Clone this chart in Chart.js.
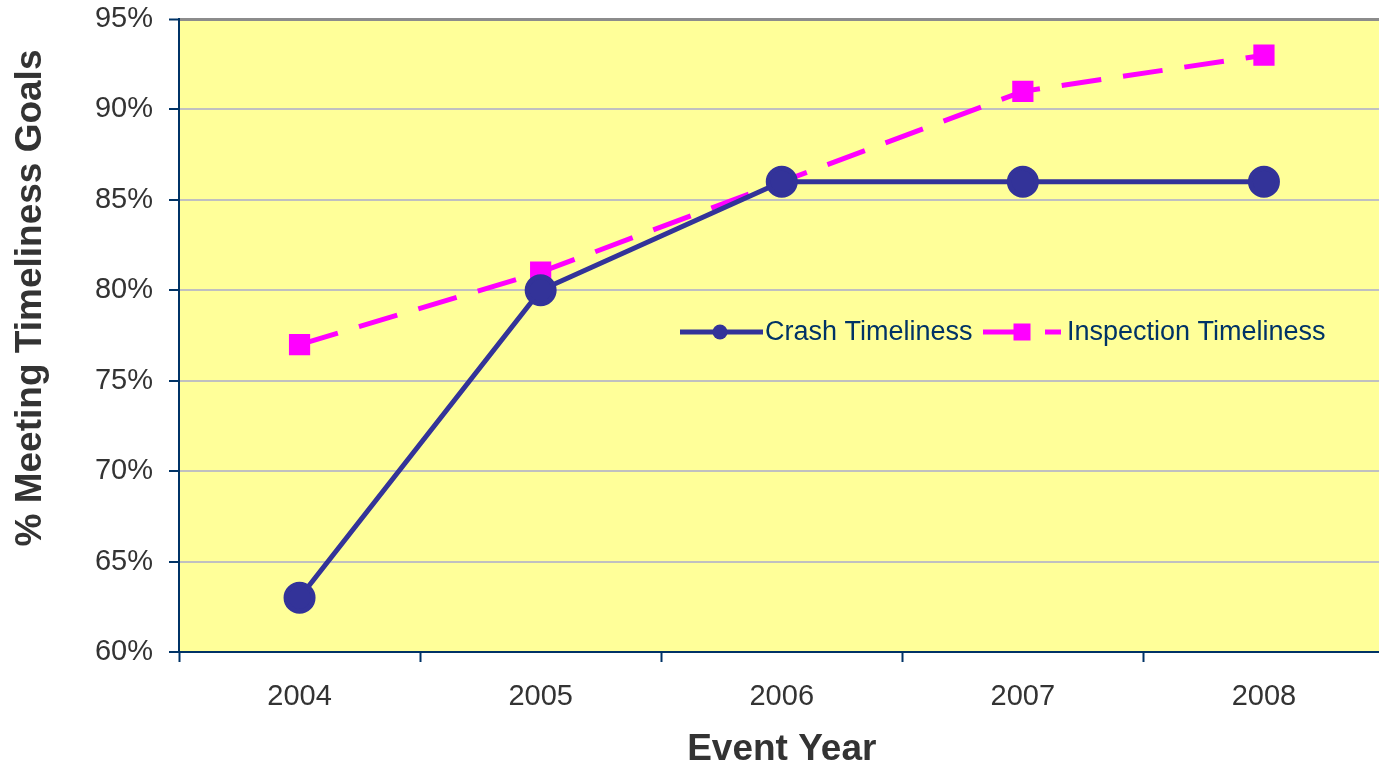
<!DOCTYPE html>
<html>
<head>
<meta charset="utf-8">
<script src="https://cdn.jsdelivr.net/npm/chart.js@4"></script>
<style>
html, body { margin: 0; padding: 0; background: #fff; overflow: hidden; }
#wrap { position: absolute; left: 0; top: 0; width: 1403px; height: 772px; }
</style>
</head>
<body>
<div id="wrap"><canvas id="chart" width="1403" height="772"></canvas></div>
<script>
const years = ['2004', '2005', '2006', '2007', '2008'];
const crashTimeliness = [63, 80, 86, 86, 86];
const inspectionTimeliness = [77, 81, 86, 91, 93];
const yTicks = [60, 65, 70, 75, 80, 85, 90, 95];
const yTitle = '% Meeting Timeliness Goals';

const FONT = '"Liberation Sans", Arial, sans-serif';
const navy = '#003366';

// yellow plot background
const plotBackground = {
    id: 'plotBackground',
    beforeDraw(chart) {
        const { ctx, chartArea: a } = chart;
        ctx.save();
        ctx.fillStyle = '#FFFF99';
        ctx.fillRect(a.left, a.top, a.right - a.left, a.bottom - a.top);
        ctx.restore();
    }
};

// y title sits a bit above the plot centre in the original, so draw it here
const yAxisTitle = {
    id: 'yAxisTitle',
    afterDraw(chart) {
        const ctx = chart.ctx;
        ctx.save();
        ctx.translate(31, 298);
        ctx.rotate(-Math.PI / 2);
        ctx.fillStyle = '#333333';
        ctx.font = 'bold 37px ' + FONT;
        ctx.textAlign = 'center';
        ctx.textBaseline = 'middle';
        ctx.fillText(yTitle, 0, 0);
        ctx.restore();
    }
};

// legend sits inside the plot, so draw it by hand
const insideLegend = {
    id: 'insideLegend',
    afterDraw(chart) {
        const ctx = chart.ctx;
        const y = 332;
        const items = [
            { ds: chart.data.datasets[0], x0: 680, x1: 763, mx: 720, textX: 765 },
            { ds: chart.data.datasets[1], x0: 983, x1: 1061, mx: 1022, textX: 1067 }
        ];
        ctx.save();
        items.forEach(it => {
            const ds = it.ds;
            ctx.strokeStyle = ds.borderColor;
            ctx.lineWidth = ds.borderWidth;
            ctx.setLineDash(ds.borderDash || []);
            ctx.beginPath();
            ctx.moveTo(it.x0, y);
            ctx.lineTo(it.x1, y);
            ctx.stroke();
            ctx.setLineDash([]);
            ctx.fillStyle = ds.pointBackgroundColor;
            if (ds.pointStyle === 'rect') {
                ctx.fillRect(it.mx - 8.5, y - 8.5, 17, 17);
            } else {
                ctx.beginPath();
                ctx.arc(it.mx, y, 7.5, 0, Math.PI * 2);
                ctx.fill();
            }
            ctx.fillStyle = navy;
            ctx.font = '27px ' + FONT;
            ctx.textAlign = 'left';
            ctx.textBaseline = 'middle';
            ctx.fillText(ds.label, it.textX, y + 1);
        });
        ctx.restore();
    }
};

new Chart(document.getElementById('chart'), {
    type: 'line',
    data: {
        labels: years,
        datasets: [{
            label: 'Crash Timeliness',
            data: crashTimeliness,
            borderColor: '#333399',
            backgroundColor: '#333399',
            pointBackgroundColor: '#333399',
            pointBorderColor: '#333399',
            borderWidth: 5,
            pointRadius: 13.5,
            pointStyle: 'circle',
            tension: 0
        }, {
            label: 'Inspection Timeliness',
            data: inspectionTimeliness,
            borderColor: '#FF00FF',
            backgroundColor: '#FF00FF',
            pointBackgroundColor: '#FF00FF',
            pointBorderColor: '#FF00FF',
            borderWidth: 5,
            borderDash: [40, 22],
            pointRadius: 15,
            pointBorderWidth: 0,
            pointStyle: 'rect',
            tension: 0
        }]
    },
    options: {
        responsive: false,
        animation: false,
        layout: { padding: { left: 0, top: 19, right: 5, bottom: 0 } },
        plugins: {
            legend: { display: false },
            tooltip: { enabled: false }
        },
        scales: {
            x: {
                offset: true,
                grid: {
                    offset: true,
                    drawOnChartArea: false,
                    tickLength: 10,
                    tickColor: navy,
                    tickWidth: 2
                },
                border: { color: navy, width: 2 },
                ticks: {
                    color: '#333333',
                    font: { family: FONT, size: 29 },
                    padding: 18
                },
                title: {
                    display: true,
                    text: 'Event Year',
                    color: '#333333',
                    font: { family: FONT, size: 37, weight: 'bold' },
                    padding: { top: 0, bottom: 0 }
                },
                afterFit(scale) { scale.height = 120; }
            },
            y: {
                min: 60,
                max: 95,
                afterBuildTicks(scale) { scale.ticks = yTicks.map(v => ({ value: v })); },
                grid: {
                    color: ctx => ctx.tick && ctx.tick.value === 95 ? '#8c8c8c' : '#c0c0c0',
                    lineWidth: ctx => ctx.tick && ctx.tick.value === 95 ? 3 : 2,
                    tickLength: 10,
                    tickColor: navy,
                    tickWidth: 2
                },
                border: { color: navy, width: 2 },
                ticks: {
                    color: '#333333',
                    font: { family: FONT, size: 29 },
                    padding: 16,
                    callback: v => v + '%'
                },
                afterFit(scale) {
                    scale.width = 179;
                    scale.paddingTop = 0;
                    scale.paddingBottom = 0;
                }
            }
        }
    },
    plugins: [plotBackground, yAxisTitle, insideLegend]
});
</script>
</body>
</html>
